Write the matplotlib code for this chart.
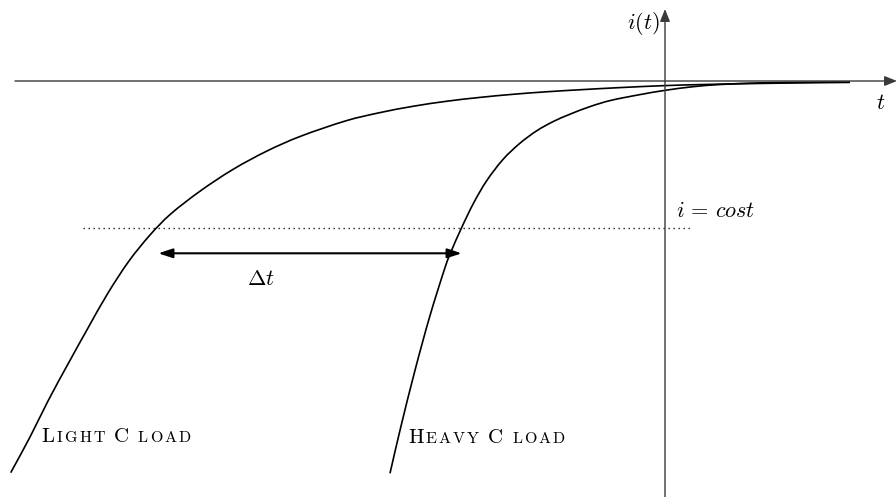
import matplotlib
matplotlib.use("Agg")
import numpy as np
import matplotlib.pyplot as plt
import matplotlib.transforms as mtransforms
from matplotlib.path import Path
from matplotlib.patches import PathPatch

plt.rcParams['mathtext.fontset'] = 'cm'

# Current i(t) for a light capacitive load (time t, current i)
light_t = [-6.543, -6.35, -6.17, -5.97, -5.77, -5.57, -5.36, -5.15, -4.95,
           -4.65, -4.32, -3.98, -3.65, -3.18, -2.85, -2.52, -2.18, -1.85,
           -1.52, -1.18, -0.85, -0.45, 0.0, 0.35, 0.85, 1.35, 1.85]
light_i = [-3.917, -3.56, -3.20, -2.83, -2.47, -2.12, -1.80, -1.54, -1.336,
           -1.102, -0.884, -0.70, -0.555, -0.395, -0.316, -0.253, -0.202, -0.164,
           -0.133, -0.1075, -0.0875, -0.066, -0.046, -0.036, -0.026, -0.019, -0.014]

# Current i(t) for a heavy capacitive load
heavy_t = [-2.75, -2.65, -2.50, -2.35, -2.20, -2.15, -2.033, -1.91, -1.783,
           -1.617, -1.45, -1.283, -1.117, -0.95, -0.75, -0.55, -0.25, 0.0,
           0.28, 0.55, 0.95, 1.35, 1.85]
heavy_i = [-3.923, -3.493, -2.893, -2.346, -1.866, -1.731, -1.465, -1.213, -0.997,
           -0.781, -0.622, -0.498, -0.405, -0.332, -0.256, -0.196, -0.136, -0.0935,
           -0.057, -0.035, -0.019, -0.013, -0.01]

# constant-current threshold and the delay between the two crossings
i_level = -1.467
level_t = (-5.823, 0.267)
delay_i = -1.723
delay_t = (-5.067, -2.033)

# axis extents
t_axis = (-6.5, 2.32)
i_axis = (-4.25, 0.72)

FS = 16
SC_FS = 15
AX_COLOR = '#3a3a3a'

fig = plt.figure(figsize=(8.96, 4.97), dpi=100)
ax = fig.add_axes([0, 0, 1, 1])
ax.set_xlim(-6.65, 2.31)
ax.set_ylim(-4.16, 0.81)
ax.axis('off')

axis_arrow = dict(arrowstyle='-|>,head_length=0.75,head_width=0.3',
                  color=AX_COLOR, lw=1.0, shrinkA=0, shrinkB=0,
                  mutation_scale=10)
ax.annotate('', xy=(t_axis[1], 0), xytext=(t_axis[0], 0),
            arrowprops=axis_arrow, annotation_clip=False)
ax.annotate('', xy=(0, i_axis[1]), xytext=(0, i_axis[0]),
            arrowprops=axis_arrow, annotation_clip=False)


def smooth_path(xs, ys):
    """Cubic Bezier path passing through every (x, y) point."""
    p = np.column_stack([xs, ys]).astype(float)
    n = len(p)
    tang = np.zeros_like(p)
    tang[0] = p[1] - p[0]
    tang[-1] = p[-1] - p[-2]
    tang[1:-1] = p[2:] - p[:-2]
    tang /= np.linalg.norm(tang, axis=1)[:, None]
    verts = [p[0]]
    codes = [Path.MOVETO]
    for k in range(n - 1):
        seg = np.linalg.norm(p[k + 1] - p[k]) / 3.0
        verts += [p[k] + tang[k] * seg, p[k + 1] - tang[k + 1] * seg, p[k + 1]]
        codes += [Path.CURVE4] * 3
    return Path(verts, codes)


for ts, cs in ((light_t, light_i), (heavy_t, heavy_i)):
    ax.add_patch(PathPatch(smooth_path(ts, cs), facecolor='none',
                           edgecolor='black', lw=1.2, capstyle='butt'))

ax.plot(level_t, [i_level, i_level], color='#222222', lw=1.0,
        linestyle=(0, (1.0, 2.6)))

ax.annotate('', xy=(delay_t[1], delay_i), xytext=(delay_t[0], delay_i),
            arrowprops=dict(arrowstyle='<|-|>,head_length=0.85,head_width=0.28',
                            color='black', lw=1.5, shrinkA=0, shrinkB=0,
                            mutation_scale=10))

ax.text(-0.05, 0.517, r'$i(t)$', fontsize=FS, ha='right', va='baseline')
ax.text(2.11, -0.283, r'$t$', fontsize=FS, ha='left', va='baseline')
ax.text(0.11, -1.357, r'$i\,=\,cost$', fontsize=FS, ha='left', va='baseline')
ax.text(-4.177, -2.04, r'$\Delta t$', fontsize=FS, ha='left', va='baseline')


def small_caps(ax, t, i, text, size, ratio=0.77):
    """Write text in small capitals starting at data point (t, i)."""
    fig = ax.figure
    renderer = fig.canvas.get_renderer()
    x, y = ax.transData.transform((t, i))
    space = 0.333 * size * fig.dpi / 72.0
    gap = 0.1 * size * fig.dpi / 72.0
    for k, word in enumerate(text.split(' ')):
        if k:
            x += space
        runs = []
        for ch in word:
            up = ch.isupper()
            if runs and runs[-1][1] == up:
                runs[-1][0] += ch
            else:
                runs.append([ch, up])
        for run, up in runs:
            fs = size if up else size * ratio
            for ch in run.upper():
                txt = fig.text(x, y, ch, fontsize=fs, family='cmr10',
                               ha='left', va='baseline',
                               transform=mtransforms.IdentityTransform())
                x += txt.get_window_extent(renderer).width + gap


small_caps(ax, -6.233, -3.607, 'Light C load', SC_FS)
small_caps(ax, -2.567, -3.623, 'Heavy C load', SC_FS)

fig.savefig('out.png', dpi=100)
